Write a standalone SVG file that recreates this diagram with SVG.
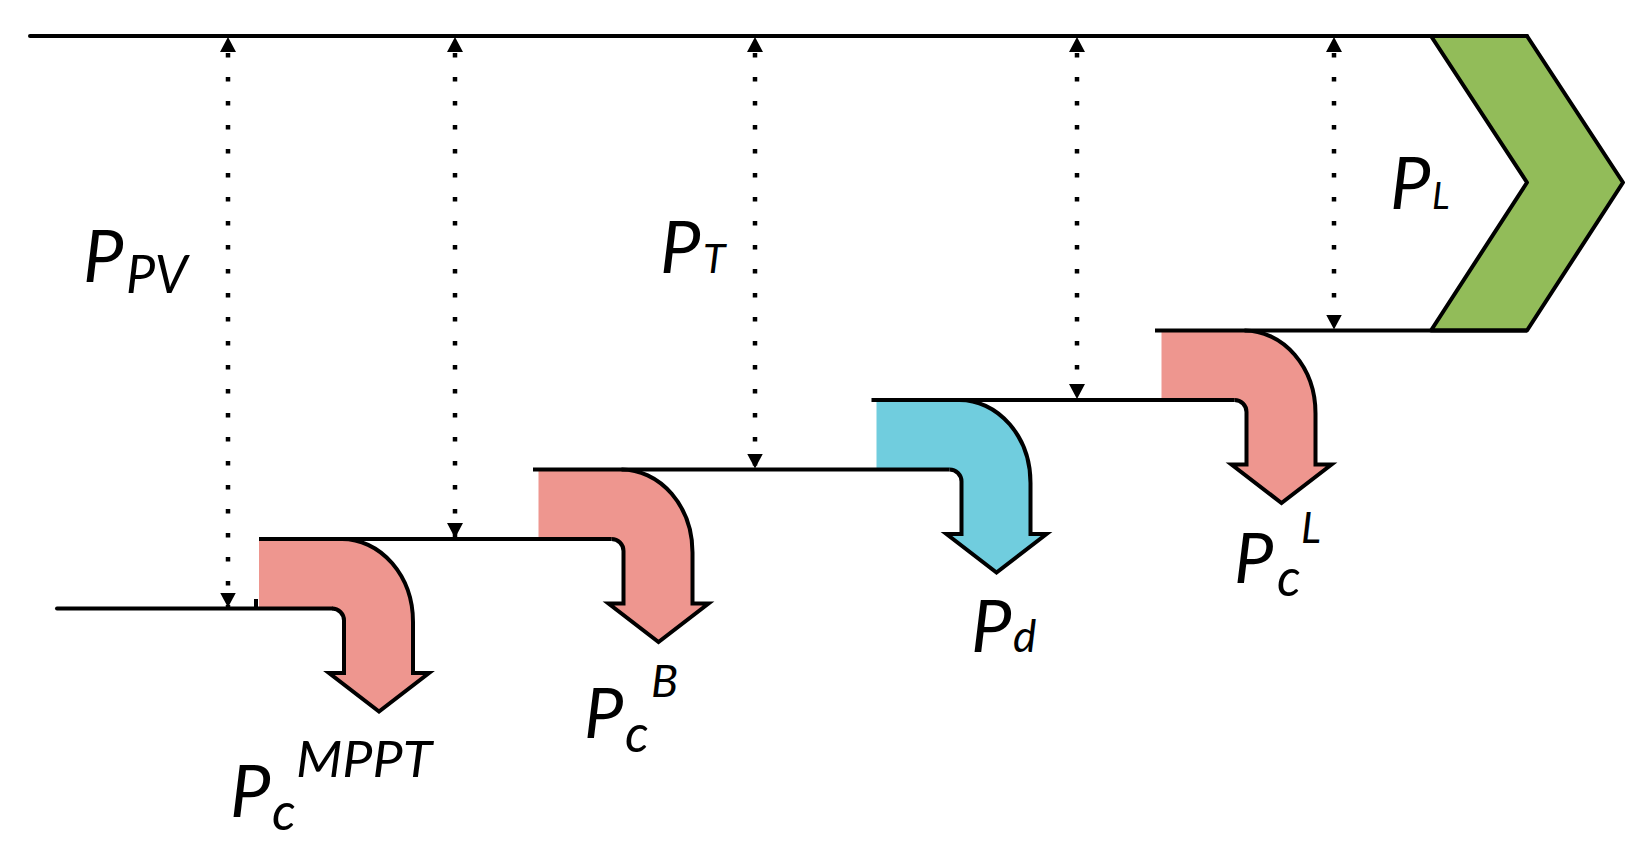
<svg xmlns="http://www.w3.org/2000/svg" width="1652" height="857" viewBox="0 0 1652 857">
<style>
.ln{fill:none;stroke:#000;stroke-width:4;stroke-linejoin:miter;stroke-miterlimit:10}
.dot{fill:none;stroke:#000;stroke-width:4.5;stroke-dasharray:4.5 19.5;stroke-dashoffset:8;marker-start:url(#ah);marker-end:url(#ah)}
.pink{fill:#EE968F;stroke:none}
.blue{fill:#70CDDE;stroke:none}
.t{font-family:Lato,"Open Sans","Liberation Sans",sans-serif;font-style:italic;fill:#000}
</style>
<defs>
<marker id="ah" markerUnits="userSpaceOnUse" markerWidth="16" markerHeight="18" refX="15" refY="8" orient="auto-start-reverse" viewBox="0 0 16 16">
<path d="M0,0 L15,8 L0,16 Z" fill="#000"/>
</marker>
</defs>
<rect width="1652" height="857" fill="#fff"/>

<g id="load">
<path d="M1431,36 H1527 L1623,182.5 L1527,330.5 H1431 L1527,182.5 Z" fill="#92BC59" stroke="#000" stroke-width="4" stroke-linejoin="round"/>
</g>

<g id="loss-mppt">
<path class="pink" d="M259,539 H342 A71,83 0 0 1 413,622 V673 H429 L379,711.5 L329,673 H344 V620.5 A12,12 0 0 0 332,608.5 H259 Z"/>
<path class="ln" d="M332,608.5 A12,12 0 0 1 344,620.5 V673 H329 L379,711.5 L429,673 H413 V622 A71,83 0 0 0 342,539"/>
</g>
<g id="loss-battery">
<path class="pink" d="M538.5,469.5 H621.5 A71,83 0 0 1 692.5,552.5 V603.5 H708.5 L658.5,642 L608.5,603.5 H623.5 V551 A12,12 0 0 0 611.5,539 H538.5 Z"/>
<path class="ln" d="M611.5,539 A12,12 0 0 1 623.5,551 V603.5 H608.5 L658.5,642 L708.5,603.5 H692.5 V552.5 A71,83 0 0 0 621.5,469.5"/>
</g>
<g id="dump">
<path class="blue" d="M876.5,400 H959.5 A71,83 0 0 1 1030.5,483 V534 H1046.5 L996.5,572.5 L946.5,534 H961.5 V481.5 A12,12 0 0 0 949.5,469.5 H876.5 Z"/>
<path class="ln" d="M949.5,469.5 A12,12 0 0 1 961.5,481.5 V534 H946.5 L996.5,572.5 L1046.5,534 H1030.5 V483 A71,83 0 0 0 959.5,400"/>
</g>
<g id="loss-load">
<path class="pink" d="M1161.5,330.5 H1244.5 A71,83 0 0 1 1315.5,413.5 V464.5 H1331.5 L1281.5,503 L1231.5,464.5 H1246.5 V412 A12,12 0 0 0 1234.5,400 H1161.5 Z"/>
<path class="ln" d="M1234.5,400 A12,12 0 0 1 1246.5,412 V464.5 H1231.5 L1281.5,503 L1331.5,464.5 H1315.5 V413.5 A71,83 0 0 0 1244.5,330.5"/>
</g>

<g id="connectors">
<path class="ln" stroke-linecap="round" d="M30,36 H1527"/>
<path class="ln" stroke-linecap="round" d="M57,608.5 H332"/>
<path class="ln" d="M256,599 V608.5"/>
<path class="ln" d="M259,539 H611.5"/>
<path class="ln" d="M533,469.5 H949.5"/>
<path class="ln" d="M871.5,400 H1234.5"/>
<path class="ln" d="M1155,330.5 H1527"/>
<line class="dot" x1="228" y1="37" x2="228" y2="607.5"/>
<line class="dot" x1="455" y1="37" x2="455" y2="538"/>
<line class="dot" x1="755" y1="37" x2="755" y2="468.5"/>
<line class="dot" x1="1077" y1="37" x2="1077" y2="399"/>
<line class="dot" x1="1334" y1="37" x2="1334" y2="329.5"/>
</g>

<g id="label-ppv"><text class="t"><tspan x="83" y="282" font-size="72">P</tspan><tspan x="126" y="293" font-size="52">PV</tspan></text></g>
<g id="label-pt"><text class="t"><tspan x="660" y="273" font-size="72">P</tspan><tspan x="703" y="273" font-size="41">T</tspan></text></g>
<g id="label-pl"><text class="t"><tspan x="1390" y="209" font-size="72">P</tspan><tspan x="1432" y="209" font-size="37">L</tspan></text></g>
<g id="label-pcmppt"><text class="t"><tspan x="230" y="817" font-size="72">P</tspan><tspan x="272" y="830" font-size="52">c</tspan><tspan x="296" y="777" font-size="50" textLength="136" lengthAdjust="spacingAndGlyphs">MPPT</tspan></text></g>
<g id="label-pcb"><text class="t"><tspan x="584" y="738" font-size="70">P</tspan><tspan x="625" y="752" font-size="52">c</tspan><tspan x="651" y="697" font-size="45">B</tspan></text></g>
<g id="label-pd"><text class="t"><tspan x="971" y="652" font-size="72">P</tspan><tspan x="1013" y="652" font-size="44">d</tspan></text></g>
<g id="label-pcl"><text class="t"><tspan x="1234" y="583" font-size="70">P</tspan><tspan x="1277" y="596" font-size="52">c</tspan><tspan x="1301" y="543" font-size="42">L</tspan></text></g>
</svg>
